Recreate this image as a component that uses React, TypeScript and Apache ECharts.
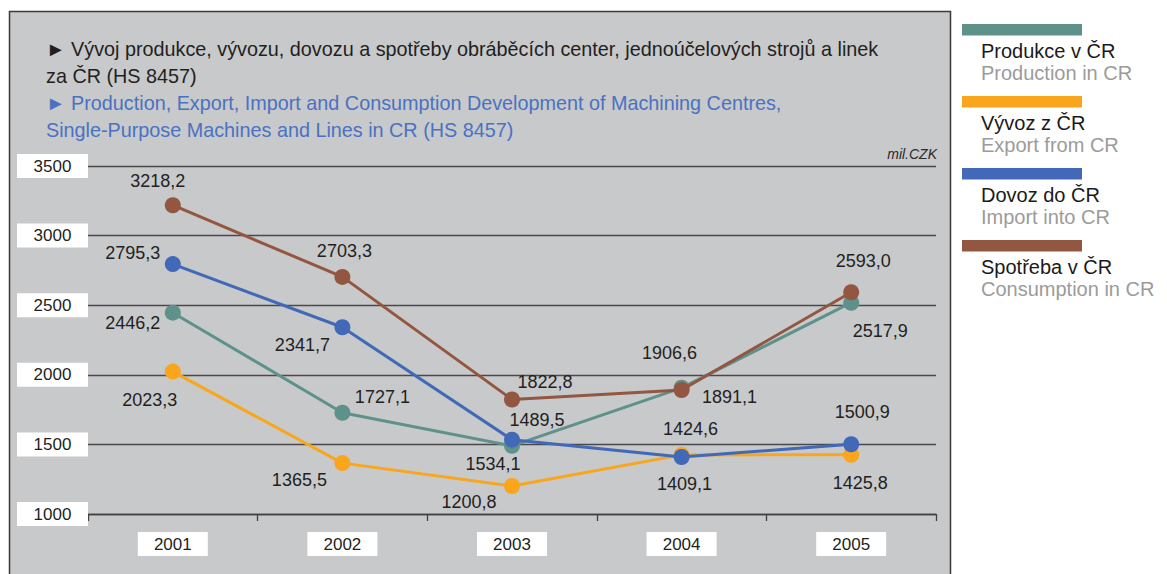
import React, { useEffect, useRef } from "react";
import * as echarts from "echarts";

const FONT = '"Liberation Sans", Arial, Helvetica, sans-serif';

const years = ["2001", "2002", "2003", "2004", "2005"];
const produkce = [2446.2, 1727.1, 1489.5, 1906.6, 2517.9];
const vyvoz = [2023.3, 1365.5, 1200.8, 1424.6, 1425.8];
const dovoz = [2795.3, 2341.7, 1534.1, 1409.1, 1500.9];
const spotreba = [3218.2, 2703.3, 1822.8, 1891.1, 2593.0];
const yMin = 1000;
const yMax = 3500;
const yStep = 500;

const namesCz = ["Produkce v ČR", "Vývoz z ČR", "Dovoz do ČR", "Spotřeba v ČR"];
const namesEn = ["Production in CR", "Export from CR", "Import into CR", "Consumption in CR"];
const colors = ["#5f918b", "#f9a61c", "#4169b7", "#935641"];

const titleCz = "► Vývoj produkce, vývozu, dovozu a spotřeby obráběcích center, jednoúčelových strojů a linek\nza ČR (HS 8457)";
const titleEn = "► Production, Export, Import and Consumption Development of Machining Centres,\nSingle-Purpose Machines and Lines in CR (HS 8457)";
const unitText = "mil.CZK";

// label offsets (pixels) relative to each marker, per series, per year
const labelOffsets = [
  [[-40, 10], [40, -16], [25, -26], [-12, -35], [29, 28]],
  [[-23, 28], [-43, 17], [-43, 16], [9, -26], [9, 28]],
  [[-40, -11], [-40, 18], [-19, 24], [3, 27], [11, -32]],
  [[-15, -24], [2, -26], [33, -17], [48, 7], [12, -31]],
];

export default function App() {
  const ref = useRef<HTMLDivElement>(null);
  useEffect(() => {
    const chart = echarts.init(ref.current!, null, { renderer: "svg" });
    const seriesData = [produkce, vyvoz, dovoz, spotreba];
    const fmt = (v: number) => v.toFixed(1).replace(".", ",");

    const series = seriesData.map((arr, si) => ({
      name: namesCz[si],
      type: "line",
      data: arr.map((v, i) => ({ value: v, label: { offset: labelOffsets[si][i] } })),
      symbol: "circle",
      symbolSize: 16,
      showSymbol: true,
      lineStyle: { color: colors[si], width: 3 },
      itemStyle: { color: colors[si] },
      label: {
        show: true,
        position: "inside",
        formatter: (p: any) => fmt(p.value),
        color: "#231f20",
        fontSize: 18,
        fontFamily: FONT,
      },
      emphasis: { disabled: true },
      z: 3 + si,
    }));

    const legendEls: any[] = [];
    namesCz.forEach((n, i) => {
      const top = 24 + i * 72;
      legendEls.push({
        type: "rect",
        shape: { x: 962, y: top, width: 120, height: 11.5 },
        style: { fill: colors[i] },
      });
      legendEls.push({
        type: "text",
        x: 981,
        y: top + 27,
        style: { text: n, fontSize: 20, fontFamily: FONT, fill: "#1a1a1a", align: "left", verticalAlign: "middle" },
      });
      legendEls.push({
        type: "text",
        x: 981,
        y: top + 49,
        style: { text: namesEn[i], fontSize: 20, fontFamily: FONT, fill: "#9b9b9b", align: "left", verticalAlign: "middle" },
      });
    });

    const option: any = {
      animation: false,
      backgroundColor: "#ffffff",
      title: [
        {
          text: titleCz,
          left: 46,
          top: 35,
          padding: 0,
          textStyle: { fontSize: 19.8, fontWeight: "normal", color: "#231f20", lineHeight: 27, fontFamily: FONT },
        },
        {
          text: titleEn,
          left: 46,
          top: 89,
          padding: 0,
          textStyle: { fontSize: 19.8, fontWeight: "normal", color: "#4a72c2", lineHeight: 27, fontFamily: FONT },
        },
      ],
      graphic: {
        elements: [
          {
            type: "rect",
            z: -10,
            shape: { x: 9.5, y: 11.5, width: 941, height: 620 },
            style: { fill: "#c8c9cb", stroke: "#3a3a3a", lineWidth: 1.5 },
            silent: true,
          },
          {
            type: "text",
            x: 937,
            y: 154,
            style: { text: unitText, fontSize: 14, fontStyle: "italic", fontFamily: FONT, fill: "#2a2a2a", align: "right", verticalAlign: "middle" },
          },
          ...legendEls,
        ],
      },
      grid: { left: 88, right: 1167 - 936, top: 166, height: 348, containLabel: false },
      xAxis: {
        type: "category",
        data: years,
        boundaryGap: true,
        axisLine: { show: true, lineStyle: { color: "#404040", width: 1.3 } },
        axisTick: { show: true, length: 7, alignWithLabel: false, lineStyle: { color: "#404040", width: 1.3 } },
        axisLabel: {
          margin: 18,
          color: "#231f20",
          fontSize: 17,
          fontFamily: FONT,
          backgroundColor: "#ffffff",
          width: 70,
          align: "center",
          lineHeight: 16,
          padding: [4, 0, 4, 0],
        },
        splitLine: { show: false },
      },
      yAxis: {
        type: "value",
        min: yMin,
        max: yMax,
        interval: yStep,
        axisLine: { show: false },
        axisTick: { show: false },
        axisLabel: {
          margin: 35.5,
          formatter: (v: number) => String(v),
          color: "#231f20",
          fontSize: 17,
          fontFamily: FONT,
          backgroundColor: "#ffffff",
          width: 71,
          align: "center",
          lineHeight: 16,
          padding: [4, 0, 4, 0],
        },
        splitLine: { show: true, lineStyle: { color: "#4a4a4a", width: 1.3 } },
      },
      series,
    };
    chart.setOption(option);
    return () => chart.dispose();
  }, []);

  return (
    <div
      ref={ref}
      style={{ position: "absolute", left: 0, top: 0, width: 1167, height: 574, background: "#ffffff" }}
    />
  );
}
